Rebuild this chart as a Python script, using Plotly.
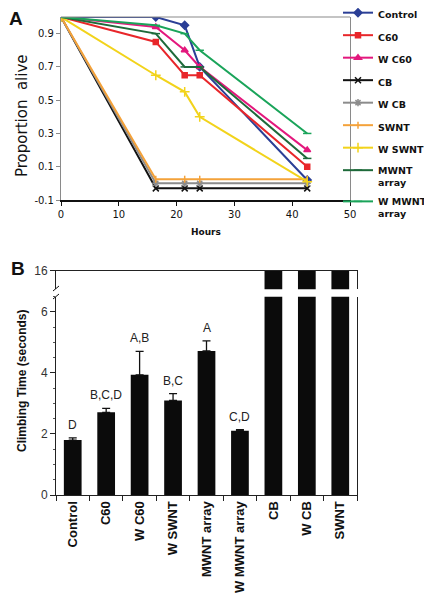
import plotly.graph_objects as go

# The page body adds an 8px margin, so the figure is drawn 8px smaller and offset.
PAGE_W, PAGE_H = 432, 599
OFF = 8
W, H = PAGE_W - OFF, PAGE_H - OFF

# ---------------- Panel A data ----------------
hours = [0, 16.4, 21.4, 24, 42.6]
series_names = ["Control", "C60", "W C60", "CB", "W CB", "SWNT", "W SWNT", "MWNT<br>array", "W MWNT<br>array"]
control = [1.0, 1.0, 0.95, 0.70, 0.02]
c60 = [1.0, 0.85, 0.65, 0.65, 0.10]
w_c60 = [1.0, 0.94, 0.80, 0.70, 0.20]
cb = [1.0, -0.03, -0.03, -0.03, -0.03]
w_cb = [1.0, 0.0, 0.0, 0.0, 0.0]
swnt = [1.0, 0.025, 0.025, 0.025, 0.025]
w_swnt = [1.0, 0.65, 0.55, 0.40, 0.01]
mwnt = [1.0, 0.90, 0.70, 0.70, 0.15]
w_mwnt = [1.0, 0.95, 0.90, 0.80, 0.30]
y_ticks_a = [-0.1, 0.1, 0.3, 0.5, 0.7, 0.9]
x_ticks_a = [0, 10, 20, 30, 40, 50]

# ---------------- Panel B data ----------------
categories = ["Control", "C60", "W C60", "W SWNT", "MWNT array", "W MWNT array", "CB", "W CB", "SWNT"]
climb_time = [1.80, 2.71, 3.94, 3.10, 4.72, 2.11, 16, 16, 16]
climb_err = [0.07, 0.13, 0.77, 0.22, 0.33, 0.03, None, None, None]
letters = ["D", "B,C,D", "A,B", "B,C", "A", "C,D", "", "", ""]

def px_x(p):
    return (p - OFF) / W

def px_y(p):
    return 1 - (p - OFF) / H

fig = go.Figure()

styles = [
    ("#2b3f96", "diamond", 6),
    ("#e8262a", "square", 5),
    ("#e3187d", "triangle-up", 6),
    ("#111111", "x-thin-open", 6),
    ("#8c8c8c", "asterisk-open", 6),
    ("#f4a23a", "line-ns-open", 5),
    ("#f2d31b", "cross-thin-open", 7),
    ("#1e6a3a", "line-ew-open", 6),
    ("#1aa45a", "line-ew-open", 6),
]
all_series = [control, c60, w_c60, cb, w_cb, swnt, w_swnt, mwnt, w_mwnt]
for i, (name, vals, (col, sym, sz)) in enumerate(zip(series_names, all_series, styles)):
    fig.add_trace(go.Scatter(
        x=hours, y=vals, name="<b>" + name.replace("<br>", "</b><br><b>") + "</b>",
        mode="lines+markers",
        line=dict(color=col, width=2),
        marker=dict(color=col, symbol=sym, size=sz, line=dict(color=col, width=1.5)),
        legendgroup="g%d" % i, xaxis="x", yaxis="y",
    ))

# Panel B bars: lower segment and upper segment (axis break)
fig.add_trace(go.Bar(
    x=categories, y=climb_time, xaxis="x2", yaxis="y2", width=0.53,
    marker=dict(color="#0b0b0b", line=dict(width=0)), showlegend=False,
    error_y=dict(type="data", array=[e if e is not None else 0 for e in climb_err],
                 arrayminus=[0] * len(climb_err), symmetric=False,
                 color="#111", thickness=1.3, width=4),
))
fig.add_trace(go.Bar(
    x=categories, y=climb_time, xaxis="x3", yaxis="y3", width=0.53,
    marker=dict(color="#0b0b0b", line=dict(width=0)), showlegend=False,
))

annotations = []
for cat, v, e, t in zip(categories, climb_time, climb_err, letters):
    if t:
        annotations.append(dict(x=cat, y=v + (e or 0), xref="x2", yref="y2", text=t,
                                showarrow=False, xanchor="center", yanchor="bottom", yshift=4,
                                font=dict(family="Arial, Liberation Sans", size=12, color="#222")))

def label(x, y, text, size, family, angle=0):
    return dict(x=px_x(x), y=px_y(y), xref="paper", yref="paper", text=text,
                showarrow=False, xanchor="center", yanchor="middle", textangle=angle,
                font=dict(family=family, size=size, color="#111"))

annotations += [
    label(16, 19, "<b>A</b>", 19, "Arial, Liberation Sans"),
    label(18, 268, "<b>B</b>", 19, "Arial, Liberation Sans"),
    label(22, 116, "Proportion  alive", 15, "DejaVu Sans", -90),
    label(206, 232, "<b>Hours</b>", 9, "DejaVu Sans"),
    label(22, 381, "<b>Climbing Time (seconds)</b>", 12, "Arial, Liberation Sans", -90),
]

shapes = [
    dict(type="line", xref="x domain", yref="y domain", x0=0, x1=1, y0=1, y1=1,
         line=dict(color="#8a8a8a", width=1.2)),
    dict(type="line", xref="paper", yref="paper", x0=px_x(53), x1=px_x(59), y0=px_y(291), y1=px_y(286),
         line=dict(color="#111", width=1)),
    dict(type="line", xref="paper", yref="paper", x0=px_x(53), x1=px_x(59), y0=px_y(299), y1=px_y(294),
         line=dict(color="#111", width=1)),
]

tickfont_a = dict(family="DejaVu Sans", size=10, color="#111")
tickfont_b = dict(family="Arial, Liberation Sans", size=12, color="#333")

fig.update_layout(
    width=W, height=H, autosize=False,
    margin=dict(l=0, r=0, t=0, b=0, autoexpand=False),
    paper_bgcolor="white", plot_bgcolor="white",
    xaxis=dict(domain=[px_x(61), px_x(350)], range=[0, 50], tickvals=x_ticks_a,
               showline=True, linecolor="#111", linewidth=1.5, ticks="outside", ticklen=4,
               tickcolor="#111", showgrid=False, zeroline=False, tickfont=tickfont_a,
               anchor="y"),
    yaxis=dict(domain=[px_y(200), px_y(17)], range=[-0.1, 1.0], tickvals=y_ticks_a,
               ticktext=["-0.1", "0.1", "0.3", "0.5", "0.7", "0.9"],
               showline=True, linecolor="#8a8a8a", linewidth=1.2, mirror=True,
               ticks="outside", ticklen=4, tickcolor="#8a8a8a",
               showgrid=False, zeroline=False, tickfont=tickfont_a, anchor="x"),
    xaxis2=dict(domain=[px_x(56), px_x(357)], anchor="y2", type="category",
                categoryorder="array", categoryarray=categories,
                tickvals=categories, ticktext=["<b>%s</b>" % c for c in categories],
                tickson="boundaries", ticks="outside", ticklen=5, tickcolor="#222",
                showline=True, linecolor="#222", linewidth=1, showgrid=False,
                tickangle=-90,
                tickfont=dict(family="Arial, Liberation Sans", size=13, color="#111")),
    yaxis2=dict(domain=[px_y(495), px_y(296.7)], range=[0, 6.5], anchor="x2",
                tickvals=[0, 2, 4, 6], ticks="outside", ticklen=5, tickcolor="#222",
                minor=dict(dtick=0.5, ticks="outside", ticklen=2.5, tickcolor="#555"),
                showline=True, linecolor="#222", linewidth=1, mirror=True,
                showgrid=False, zeroline=False, tickfont=tickfont_b),
    xaxis3=dict(domain=[px_x(56), px_x(357)], anchor="y3", type="category",
                matches="x2", side="top", showticklabels=False, ticks="",
                showline=True, linecolor="#222", linewidth=1, showgrid=False),
    yaxis3=dict(domain=[px_y(289.3), px_y(270.7)], range=[15.4, 16], anchor="x3",
                tickvals=[16], ticks="outside", ticklen=5, tickcolor="#222",
                showline=True, linecolor="#222", linewidth=1, mirror=True,
                showgrid=False, zeroline=False, tickfont=tickfont_b),
    legend=dict(x=1, y=px_y(0), xanchor="right", yanchor="top",
                font=dict(family="DejaVu Sans", size=9.5, color="#111"),
                itemwidth=30, tracegroupgap=3.5, valign="top",
                bgcolor="rgba(0,0,0,0)"),
    annotations=annotations,
    shapes=shapes,
    showlegend=True,
)

fig.write_html("out.html")
